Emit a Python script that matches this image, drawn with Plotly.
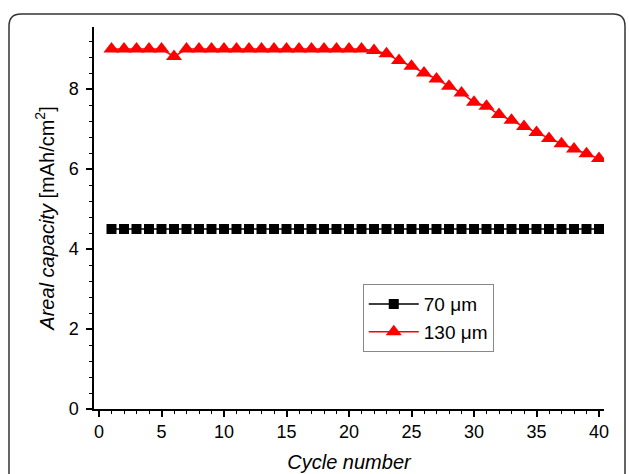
import plotly.graph_objects as go

cycles = list(range(1, 41))
cap_70 = [4.5] * 40
cap_130 = [9.0, 9.0, 9.0, 9.0, 9.0, 8.81, 9.0, 9.0, 9.0, 9.0,
           9.0, 9.0, 9.0, 9.0, 9.0, 9.0, 9.0, 9.0, 9.0, 9.0,
           9.0, 8.96, 8.88, 8.71, 8.57, 8.4, 8.25, 8.07, 7.9, 7.67,
           7.57, 7.36, 7.22, 7.06, 6.91, 6.76, 6.63, 6.5, 6.38, 6.26]
labels = ["70 μm", "130 μm"]

fig = go.Figure()
fig.add_trace(go.Scatter(x=cycles, y=cap_70, name=labels[0], mode="lines+markers",
                         line=dict(color="black", width=1.5),
                         marker=dict(symbol="square", size=10, color="black")))
fig.add_trace(go.Scatter(x=cycles, y=cap_130, name=labels[1], mode="lines+markers",
                         line=dict(color="#ff0000", width=1.5),
                         marker=dict(symbol="triangle-up", size=14, color="#ff0000")))

L, R, T, B = 94, 25, 27, 65
W, H = 629, 474
pw, ph = W - L - R, H - T - B

def px(x):
    return (x - L) / pw

def py(y):
    return (H - B - y) / ph

# rounded frame around figure
x0, x1, y0, y1, r = 9, 625, 14, 500, 12
path = (f"M {px(x0)},{py(y1)} "
        f"L {px(x0)},{py(y0+r)} Q {px(x0)},{py(y0)} {px(x0+r)},{py(y0)} "
        f"L {px(x1-r)},{py(y0)} Q {px(x1)},{py(y0)} {px(x1)},{py(y0+r)} "
        f"L {px(x1)},{py(y1)}")
fig.add_shape(type="path", xref="paper", yref="paper", path=path,
              line=dict(color="#333333", width=1.5), layer="below")

fig.update_layout(
    width=W, height=H,
    margin=dict(l=L, r=R, t=T, b=B),
    paper_bgcolor="white", plot_bgcolor="white",
    font=dict(family="Liberation Sans, Arial, sans-serif", color="black", size=18),
    showlegend=True,
    legend=dict(x=0.527, y=0.327, xanchor="left", yanchor="top",
                bordercolor="#888888", borderwidth=1, bgcolor="white",
                font=dict(size=19), itemwidth=50, tracegroupgap=0),
    xaxis=dict(range=[-0.4, 40.4], showgrid=False, zeroline=False, automargin=False,
               showline=True, linecolor="black", linewidth=1.5,
               ticks="outside", ticklen=6, tickwidth=1.5, tickcolor="black",
               dtick=5, tick0=0,
               minor=dict(dtick=1, ticks="outside", ticklen=3, tickcolor="black", tickwidth=1),
               title=dict(text="<i>Cycle number</i>", font=dict(size=20), standoff=14)),
    yaxis=dict(range=[0, 9.55], showgrid=False, zeroline=False, automargin=False,
               showline=True, linecolor="black", linewidth=1.5,
               ticks="outside", ticklen=6, tickwidth=1.5, tickcolor="black",
               dtick=2, tick0=0, ticklabelstandoff=4,
               minor=dict(dtick=0.4, ticks="outside", ticklen=3, tickcolor="black", tickwidth=1),
               title=dict(text="<i>Areal capacity</i> [mAh/cm<sup>2</sup>]", font=dict(size=20), standoff=9)),
)

fig.write_html("out.html", config={"displayModeBar": False},
               post_script="document.body.style.margin='0';document.body.style.overflow='hidden';")
